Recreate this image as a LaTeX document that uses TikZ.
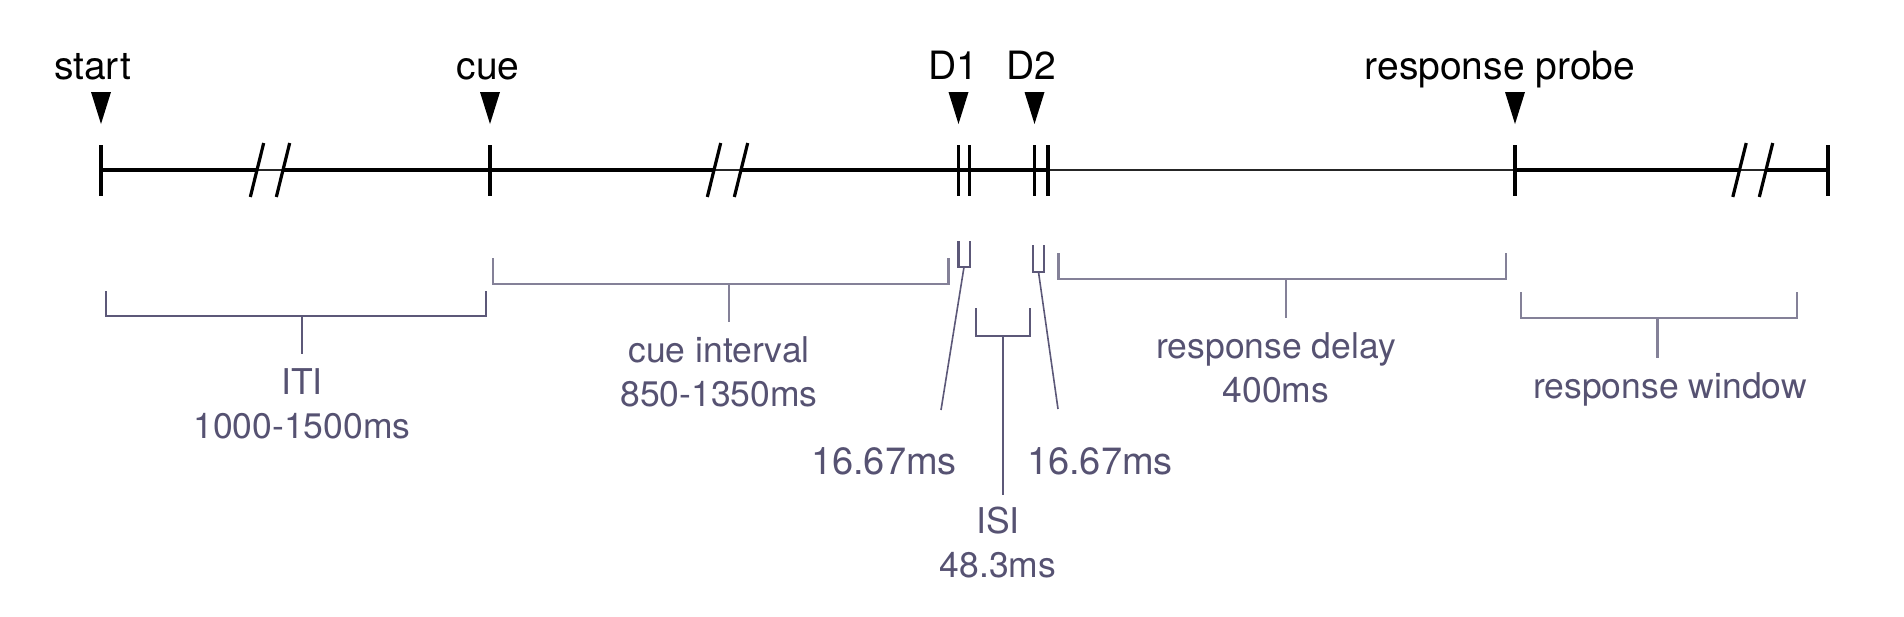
\documentclass[tikz,border=0pt]{standalone}
\usepackage{fontspec}
\setmainfont{TeX Gyre Heros}
\usetikzlibrary{positioning}
\definecolor{lblcol}{RGB}{86,82,114}
\definecolor{brkdark}{RGB}{92,88,120}
\definecolor{brklight}{RGB}{132,129,152}

\begin{document}
\begin{tikzpicture}[
    x=0.5pt, y=-0.5pt,
    axis/.style={line width=1.7pt},
    thinaxis/.style={line width=0.7pt, black!85},
    tick/.style={line width=1.6pt},
    evt/.style={font=\fontsize{19.5}{23}\selectfont, anchor=base, inner sep=0pt},
    brk/.style={line width=1.45pt, brkdark},
    brklt/.style={brk, brklight},
    dbrk/.style={line width=1.1pt, brkdark},
    lead/.style={line width=0.8pt, brkdark},
    stem/.style={shorten >=7pt},
    lbl/.style={font=\fontsize{17.75}{22}\selectfont, text=lblcol, align=center, anchor=north, inner sep=0pt},
    durlbl/.style={lbl, font=\fontsize{19}{22}\selectfont}
]
\useasboundingbox (0,0) rectangle (1904,616);

% time points on the axis
\coordinate (tStart) at (101,170);
\coordinate (tCue) at (490,170);
\coordinate (tDa) at (958.5,170);
\coordinate (tDb) at (969.5,170);
\coordinate (tDc) at (1034.5,170);
\coordinate (tDd) at (1048,170);
\coordinate (tProbe) at (1515,170);
\coordinate (tEnd) at (1828,170);
% where the axis is cut
\coordinate (cutA) at (257,170);
\coordinate (cutB) at (283,170);
\coordinate (cutC) at (714,170);
\coordinate (cutD) at (741,170);
\coordinate (cutE) at (1739.5,170);
\coordinate (cutF) at (1766,170);

% axis
\draw[thinaxis] (tStart) -- (tEnd);
\draw[axis] (tStart) -- (cutA);
\draw[axis] (cutB) -- (cutC);
\draw[axis] (cutD) -- (tDd);
\draw[axis] (tProbe) -- (cutE);
\draw[axis] (cutF) -- (tEnd);
\foreach \c in {cutA,cutB,cutC,cutD,cutE,cutF}
    \draw[tick] (\c) ++(-6.7,27) -- ++(13.4,-54);
\foreach \t in {tStart,tCue,tDa,tDb,tDc,tDd,tProbe,tEnd}
    \draw[tick] (\t) ++(0,-25) -- ++(0,51);
\foreach \t in {tStart,tCue,tDa,tDc,tProbe}
    \fill (\t) ++(-10,-78) -- ++(20,0) -- ++(-10,32) -- cycle;

% events
\node[evt] (start) at (92.5,79) {start};
\node[evt] (cue) at (488,79) {cue};
\node[evt] (dOne) at (953,79) {D1};
\node[evt] (dTwo) at (1031.5,79) {D2};
\node[evt] (probe) at (1500,79) {response probe};

% intervals
\draw[brk] (106,291) -- (106,316) -- (486,316) -- (486,291);
\coordinate (itiMid) at (302,316);
\node[lbl] (iti) at (302,368) {ITI\\1000-1500ms};
\draw[brk, stem] (itiMid) -- (itiMid |- iti.north);

\draw[brklt] (493,258) -- (493,284) -- (948.5,284) -- (948.5,258);
\coordinate (cueMid) at (729,284);
\node[lbl] (cueInt) at (719,336) {cue interval\\850-1350ms};
\draw[brklt, stem] (cueMid) -- (cueMid |- cueInt.north);

\draw[dbrk] (958.5,241) -- (958.5,267) -- (970,267) -- (970,241);
\coordinate (dOneMid) at (964,267);
\coordinate (dOneTip) at (941,410);
\node[durlbl] (dOneDur) at (884,447) {16.67ms};
\draw[lead] (dOneMid) -- (dOneTip);

\draw[dbrk] (1033,245) -- (1033,272) -- (1044,272) -- (1044,245);
\coordinate (dTwoMid) at (1038.5,272);
\coordinate (dTwoTip) at (1058,409);
\node[durlbl] (dTwoDur) at (1100,447) {16.67ms};
\draw[lead] (dTwoMid) -- (dTwoTip);

\draw[brk] (976,308) -- (976,336) -- (1030,336) -- (1030,308);
\coordinate (isiMid) at (1003,336);
\node[lbl] (isi) at (998,507) {ISI\\48.3ms};
\draw[lead, line width=1pt, shorten >=6pt] (isiMid) -- (isiMid |- isi.north);

\draw[brklt] (1058.5,253) -- (1058.5,279) -- (1506,279) -- (1506,253);
\coordinate (delayMid) at (1286,279);
\node[lbl] (delay) at (1276,332) {response delay\\400ms};
\draw[brklt, stem] (delayMid) -- (delayMid |- delay.north);

\draw[brklt] (1521,292) -- (1521,318) -- (1797,318) -- (1797,292);
\coordinate (windowMid) at (1657.5,318);
\node[lbl] (window) at (1670,372) {response window};
\draw[brklt, stem] (windowMid) -- (windowMid |- window.north);
\end{tikzpicture}
\end{document}
